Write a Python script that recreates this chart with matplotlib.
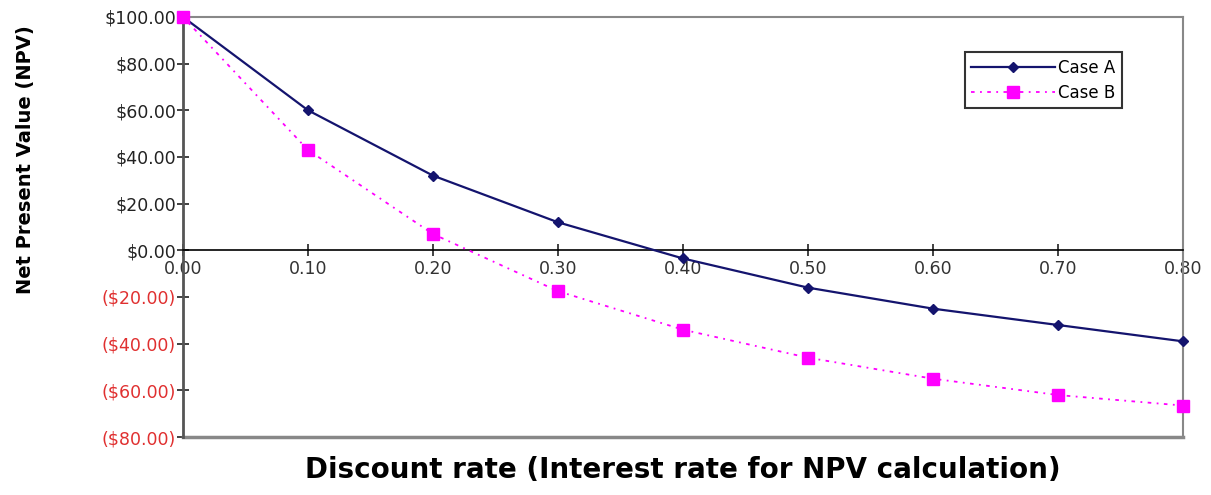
import matplotlib.pyplot as plt
from matplotlib.ticker import FuncFormatter

plt.rcParams['font.family'] = ['DejaVu Sans']

# data
rates = [0.0, 0.1, 0.2, 0.3, 0.4, 0.5, 0.6, 0.7, 0.8]
case_a = [100, 60, 32, 12, -3.5, -16, -25, -32, -39]
case_b = [100, 43, 7, -17.5, -34, -46, -55, -62, -66.5]
y_ticks = [-80, -60, -40, -20, 0, 20, 40, 60, 80, 100]
x_ticks = [0.0, 0.1, 0.2, 0.3, 0.4, 0.5, 0.6, 0.7, 0.8]


def money(v, pos=None):
    if v < 0:
        return '(${:,.2f})'.format(-v)
    return '${:,.2f}'.format(v)


fig = plt.figure(figsize=(12.11, 4.95), dpi=100)
ax = fig.add_axes([0.151, 0.117, 0.826, 0.849])

ax.plot(rates, case_a, color='#14146e', lw=1.6, marker='D', ms=5,
        label='Case A', zorder=3, clip_on=False)
ax.plot(rates, case_b, color='#ff00ff', lw=1.3, ls=(0, (2, 3, 1, 3)),
        marker='s', ms=8, label='Case B', zorder=4, clip_on=False)

ax.set_xlim(0, 0.8)
ax.set_ylim(-80, 100)
ax.set_yticks(y_ticks)
ax.set_xticks(x_ticks)
ax.yaxis.set_major_formatter(FuncFormatter(money))
ax.xaxis.set_major_formatter(FuncFormatter(lambda v, p: '{:.2f}'.format(v)))

# x axis sits on the zero line, the box stays around the plot area
ax.spines['bottom'].set_position(('data', 0))
ax.spines['bottom'].set_color('black')
ax.spines['bottom'].set_linewidth(1.2)
ax.spines['left'].set_color('#555555')
ax.spines['left'].set_linewidth(2)
for s in ['top', 'right']:
    ax.spines[s].set_color('#888888')
    ax.spines[s].set_linewidth(1.5)
ax.axhline(-80, color='#888888', lw=2.5, clip_on=False)

ax.tick_params(axis='both', direction='inout', length=8, width=1.3,
               colors='#333333')
ax.tick_params(axis='x', pad=3, labelsize=12.5)
ax.tick_params(axis='y', pad=1, labelsize=12.5)
for lbl, v in zip(ax.get_yticklabels(), y_ticks):
    lbl.set_color('#e03030' if v < 0 else '#222222')

ax.set_ylabel('Net Present Value (NPV)', fontsize=14, fontweight='bold')
ax.yaxis.set_label_coords(-0.148, 0.66)
ax.set_xlabel('Discount rate (Interest rate for NPV calculation)',
              fontsize=20, fontweight='bold')
ax.xaxis.set_label_coords(0.5, -0.045)

leg = ax.legend(loc='upper right', bbox_to_anchor=(0.947, 0.935), fontsize=12,
                frameon=True, fancybox=False, edgecolor='black',
                handlelength=5, borderpad=0.4, labelspacing=0.4,
                handletextpad=0.2)
leg.get_frame().set_linewidth(1.5)

fig.savefig('out.png', dpi=100)
